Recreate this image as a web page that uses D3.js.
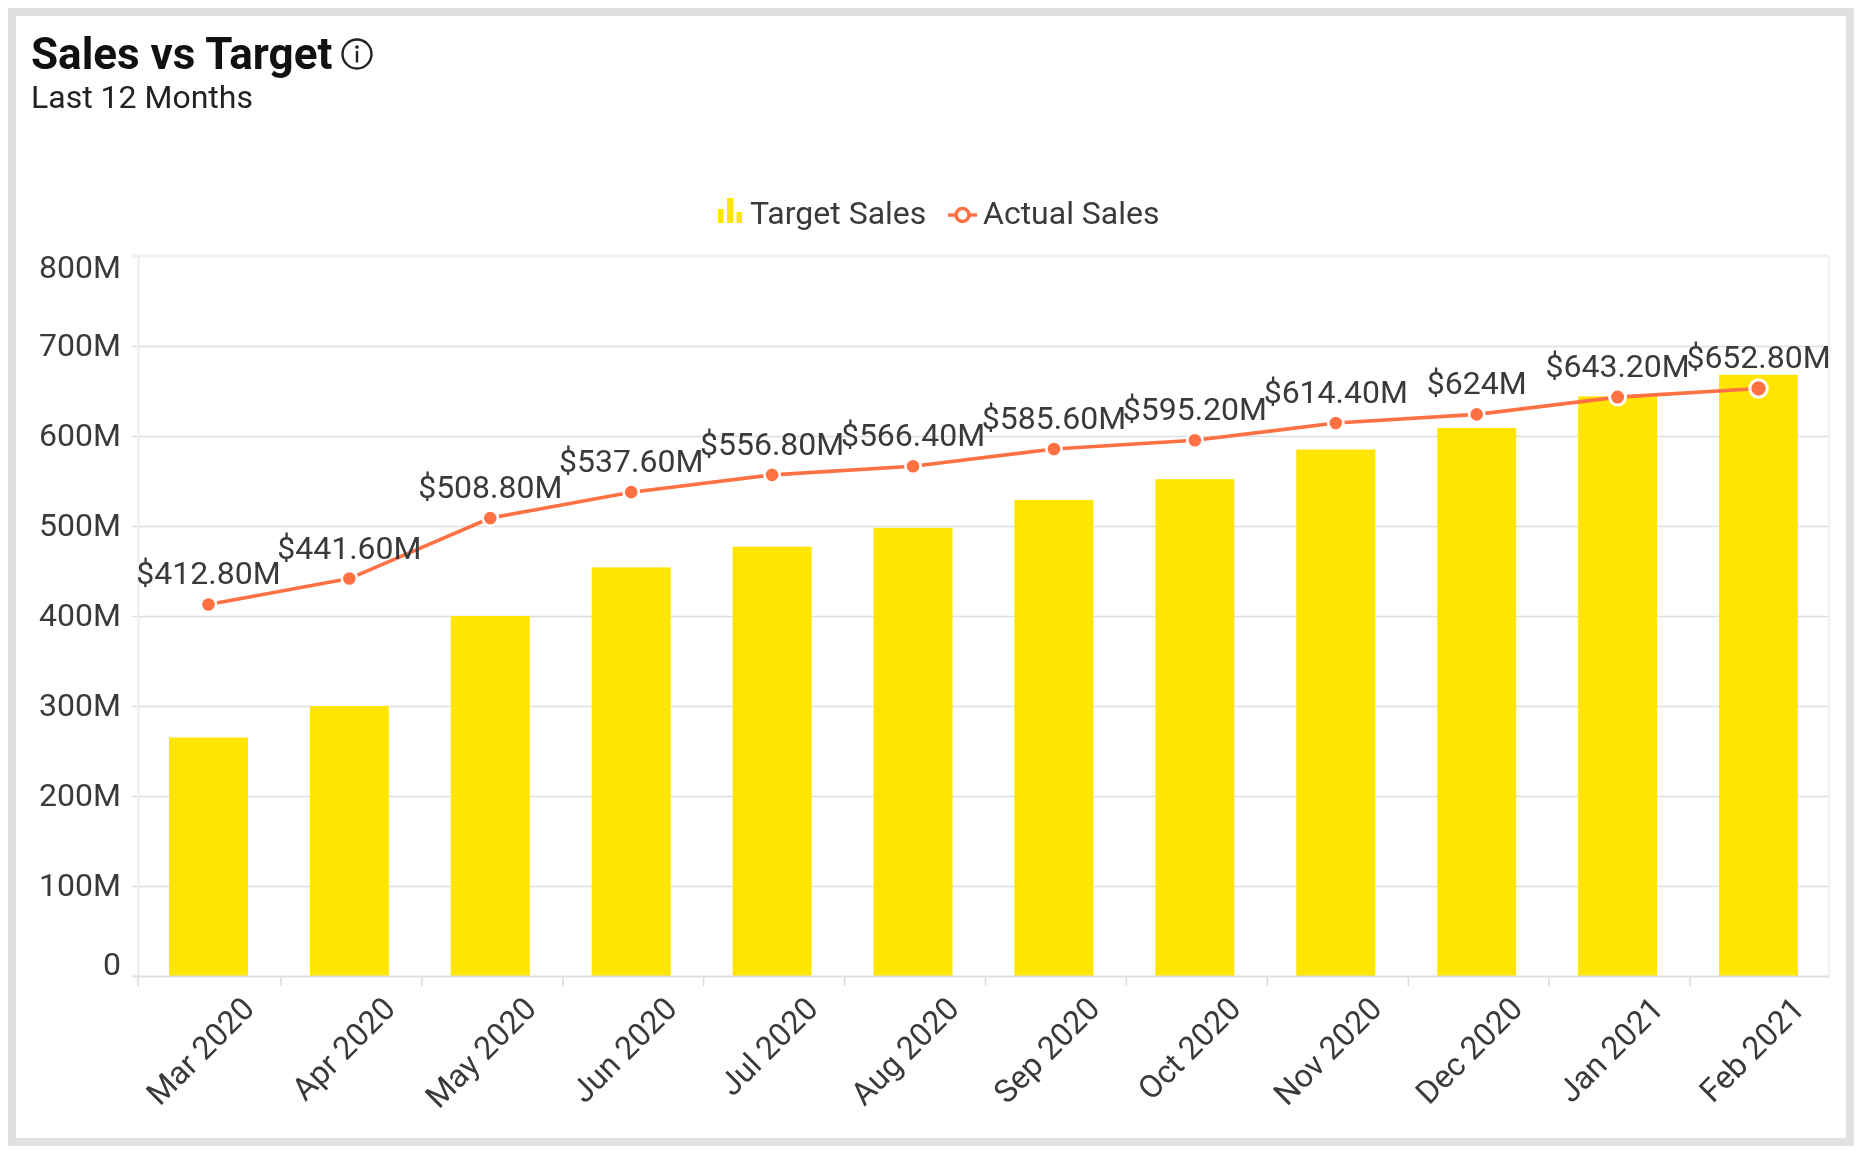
<!DOCTYPE html>
<html><head><meta charset="utf-8">
<script src="https://cdn.jsdelivr.net/npm/d3@7/dist/d3.min.js"></script>
<style>
html,body{margin:0;padding:0;background:#fff;}
svg{display:block;filter:blur(0.55px);}
text{font-family:Roboto,sans-serif;}
</style></head><body><svg id="c" width="1862" height="1154"></svg>
<script>
const months=["Mar 2020","Apr 2020","May 2020","Jun 2020","Jul 2020","Aug 2020","Sep 2020","Oct 2020","Nov 2020","Dec 2020","Jan 2021","Feb 2021"];
const targetSales=[265,300,400,454,477,498,529,552,585,609,644,668];
const actualSales=[412.8,441.6,508.8,537.6,556.8,566.4,585.6,595.2,614.4,624,643.2,652.8];
const actualLabels=["$412.80M","$441.60M","$508.80M","$537.60M","$556.80M","$566.40M","$585.60M","$595.20M","$614.40M","$624M","$643.20M","$652.80M"];
const yTicks=[0,100,200,300,400,500,600,700,800];
const seriesNames=["Target Sales","Actual Sales"];
const titleText="Sales vs Target", subtitleText="Last 12 Months";

const L=138,R=1829,T=256,B=976;
const svg=d3.select("#c");
const x=d3.scaleBand().domain(months).range([L,R]);
const y=d3.scaleLinear().domain([0,800]).range([B,T]);
const yellow="#ffe500",orange="#ff7043",txt="#3a3a3a";

// card border
svg.append("rect").attr("x",12).attr("y",12).attr("width",1838).attr("height",1130)
  .attr("fill","#fff").attr("stroke","#e0e0e0").attr("stroke-width",8);

// title
svg.append("text").attr("x",31).attr("y",69).attr("font-size",44).attr("font-weight",700).attr("fill","#111").text(titleText);
svg.append("text").attr("x",31).attr("y",108).attr("font-size",32).attr("fill","#222").text(subtitleText);
const ig=svg.append("g").attr("transform","translate(357,54)");
ig.append("circle").attr("r",14.5).attr("fill","none").attr("stroke","#222").attr("stroke-width",2.4);
ig.append("circle").attr("cy",-7).attr("r",1.8).attr("fill","#222");
ig.append("rect").attr("x",-1.2).attr("y",-3).attr("width",2.4).attr("height",11.5).attr("fill","#222");

// grid
svg.append("g").selectAll("line").data(yTicks.filter(d=>d>0&&d<800)).join("line")
  .attr("x1",L-6).attr("x2",R).attr("y1",d=>y(d)+.5).attr("y2",d=>y(d)+.5)
  .attr("stroke","#dedede").attr("stroke-width",1.6);
svg.append("line").attr("x1",L-6).attr("x2",R).attr("y1",T).attr("y2",T).attr("stroke","#f1f1f1").attr("stroke-width",2.5);
svg.append("line").attr("x1",R).attr("x2",R).attr("y1",T).attr("y2",B).attr("stroke","#f1f1f1").attr("stroke-width",2.5);

// bars
svg.append("g").selectAll("rect").data(months).join("rect")
  .attr("x",m=>x(m)+x.bandwidth()/2-39.5).attr("width",79)
  .attr("y",(m,i)=>y(targetSales[i])).attr("height",(m,i)=>B-y(targetSales[i]))
  .attr("fill",yellow);

// axes
const yAxis=d3.axisLeft(y).tickValues(yTicks).tickFormat(d=>d===0?"0":d+"M").tickSize(0).tickPadding(17);
const gy=svg.append("g").attr("transform",`translate(${L},0)`).call(yAxis);
gy.select(".domain").attr("stroke","#efefef").attr("stroke-width",2.5);
gy.selectAll("text").attr("font-size",32).attr("fill",txt).attr("font-family","Roboto")
  .attr("dy",d=>d===800?"0.66em":d===0?"-0.06em":"0.29em");

svg.append("g").selectAll("line").data(months).join("line")
  .attr("x1",(m,i)=>x(m)+(i?2:0)).attr("x2",(m,i)=>x(m)+(i?2:0)).attr("y1",B).attr("y2",B+10).attr("stroke","#dcdcdc").attr("stroke-width",1.5);
svg.append("line").attr("x1",L-6).attr("x2",R).attr("y1",B+.5).attr("y2",B+.5).attr("stroke","#dfdfdf").attr("stroke-width",2);

svg.append("g").selectAll("text").data(months).join("text")
  .attr("text-anchor","end").attr("font-size",32).attr("fill",txt)
  .attr("transform",m=>`translate(${x(m)+x.bandwidth()/2+34},${B+21}) rotate(-45)`)
  .attr("dy","0.6em").text(m=>m);

// line
const cx=i=>x(months[i])+x.bandwidth()/2;
const line=d3.line().x((d,i)=>cx(i)).y(d=>y(d));
svg.append("path").attr("d",line(actualSales)).attr("fill","none").attr("stroke",orange).attr("stroke-width",3.6);
svg.append("g").selectAll("circle").data(actualSales).join("circle")
  .attr("cx",(d,i)=>cx(i)).attr("cy",d=>y(d)).attr("r",(d,i)=>i===11?8.7:(i===10?8:7.6))
  .attr("fill",orange).attr("stroke","#fff").attr("stroke-width",(d,i)=>i>=10?3:2.6);
svg.append("g").selectAll("text").data(actualSales).join("text")
  .attr("x",(d,i)=>cx(i)).attr("y",d=>y(d)-20).attr("text-anchor","middle")
  .attr("font-size",32).attr("fill",txt).text((d,i)=>actualLabels[i]);

// legend
const lg=svg.append("g");
lg.append("rect").attr("x",718).attr("y",209).attr("width",5.5).attr("height",14).attr("fill",yellow);
lg.append("rect").attr("x",727).attr("y",198).attr("width",6.5).attr("height",25).attr("fill",yellow);
lg.append("rect").attr("x",736.5).attr("y",212).attr("width",5.5).attr("height",11).attr("fill",yellow);
lg.append("text").attr("x",750).attr("y",224).attr("font-size",32).attr("fill",txt).text(seriesNames[0]);
lg.append("line").attr("x1",948).attr("x2",977).attr("y1",215).attr("y2",215).attr("stroke",orange).attr("stroke-width",3.5);
lg.append("circle").attr("cx",962.5).attr("cy",215).attr("r",6.5).attr("fill","#fff").attr("stroke",orange).attr("stroke-width",3.5);
lg.append("text").attr("x",983).attr("y",224).attr("font-size",32).attr("fill",txt).text(seriesNames[1]);
</script></body></html>
